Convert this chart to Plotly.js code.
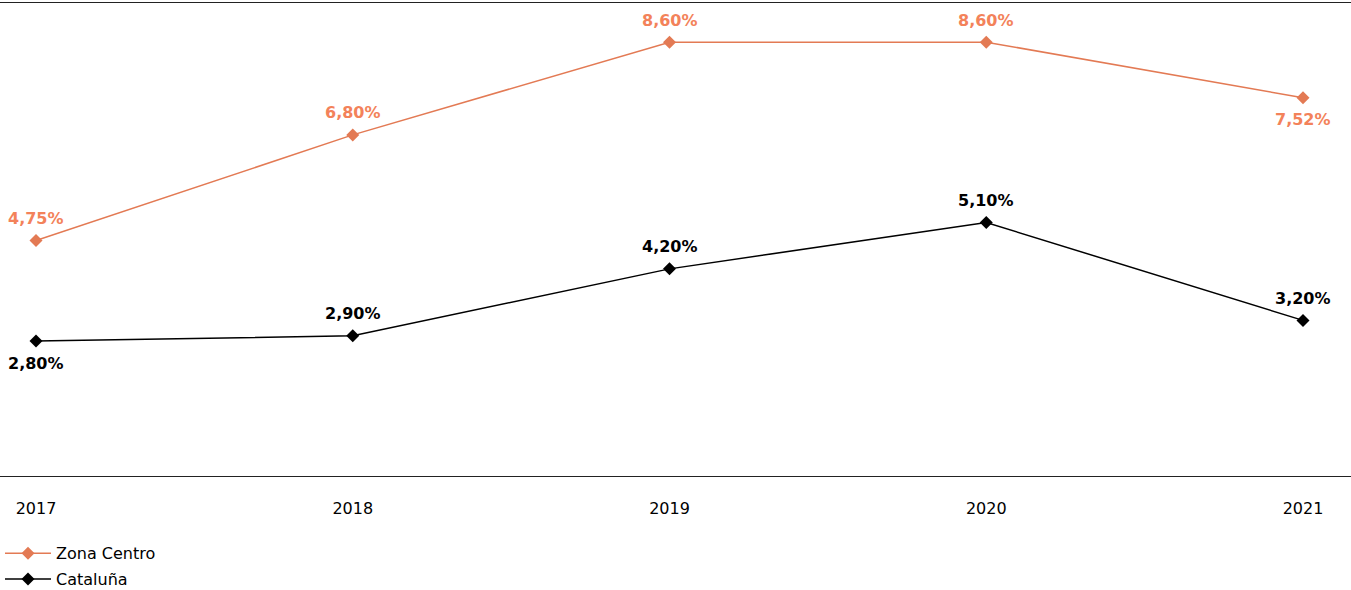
<!DOCTYPE html>
<html>
<head>
<meta charset="utf-8">
<script src="https://cdn.plot.ly/plotly-3.0.1.min.js"></script>
<style>
  html, body { margin: 0; padding: 0; background: #fff; }
  #chart { width: 1351px; height: 590px; }
</style>
</head>
<body>
<div id="chart"></div>
<script>
// Years on the horizontal axis
const years = ['2017', '2018', '2019', '2020', '2021'];

// Rates per region (%)
const zonaCentro = [4.75, 6.80, 8.60, 8.60, 7.52];
const cataluna   = [2.80, 2.90, 4.20, 5.10, 3.20];

// Where each value label sits relative to its point: 1 = above, -1 = below
const zonaCentroLabelSide = [1, 1, 1, 1, -1];
const catalunaLabelSide   = [-1, 1, 1, 1, 1];

const ORANGE_LINE = '#E37A54';
const ORANGE_TEXT = '#F3825A';
const BLACK = '#000000';

const fmt = v => v.toFixed(2).replace('.', ',') + '%';

function series(name, values, color) {
  return {
    x: years,
    y: values,
    name: name,
    legendgroup: name,
    type: 'scatter',
    mode: 'lines+markers',
    line: { color: color, width: 1.5 },
    marker: { symbol: 'diamond', size: 10, color: color },
    hoverinfo: 'skip'
  };
}

// Value labels, placed on the category index of each year
function labels(values, sides, color) {
  return values.map((v, i) => ({
    x: i,
    y: v,
    xref: 'x',
    yref: 'y',
    text: '<b>' + fmt(v) + '</b>',
    showarrow: false,
    yshift: sides[i] * 22,
    font: { family: 'DejaVu Sans', size: 16, color: color }
  }));
}

const data = [
  series('Zona Centro', zonaCentro, ORANGE_LINE),
  series('Cataluña', cataluna, BLACK)
];

const layout = {
  width: 1351,
  height: 590,
  margin: { l: 0, r: 0, t: 3, b: 114, autoexpand: false },
  paper_bgcolor: '#ffffff',
  plot_bgcolor: '#ffffff',
  font: { family: 'DejaVu Sans', color: '#000' },
  showlegend: true,
  legend: {
    orientation: 'v',
    x: 0,
    y: -0.1275,
    xanchor: 'left',
    yanchor: 'top',
    font: { family: 'DejaVu Sans', size: 16, color: '#000' },
    traceorder: 'grouped',
    tracegroupgap: 2,
    itemwidth: 46,
    bgcolor: 'rgba(0,0,0,0)'
  },
  xaxis: {
    type: 'category',
    range: [-0.1137, 4.1515],
    showline: true,
    mirror: true,
    linecolor: '#222',
    linewidth: 1,
    showgrid: false,
    zeroline: false,
    ticks: '',
    ticklabelstandoff: 18,
    tickfont: { family: 'DejaVu Sans', size: 16, color: '#000' },
    automargin: false,
    fixedrange: true
  },
  yaxis: {
    range: [0.18, 9.36],
    visible: false,
    showgrid: false,
    zeroline: false,
    automargin: false,
    fixedrange: true
  },
  annotations: [
    ...labels(zonaCentro, zonaCentroLabelSide, ORANGE_TEXT),
    ...labels(cataluna, catalunaLabelSide, BLACK)
  ]
};

Plotly.newPlot('chart', data, layout, { displayModeBar: false, staticPlot: true });
</script>
</body>
</html>
